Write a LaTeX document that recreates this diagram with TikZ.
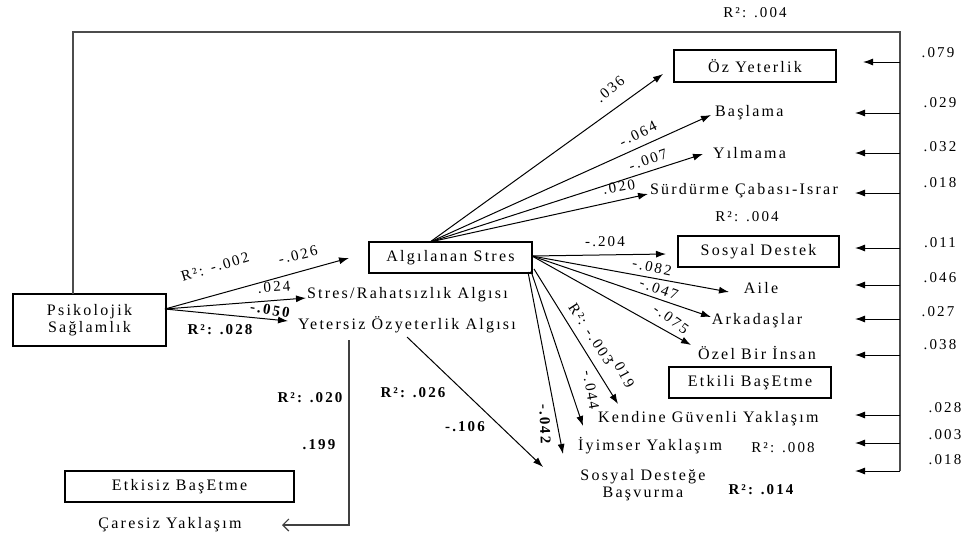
\documentclass[tikz,border=0pt]{standalone}
\usepackage{fontspec}
\setmainfont{Liberation Serif}[LetterSpace=14]
\usetikzlibrary{arrows.meta}
\begin{document}
\begin{tikzpicture}[x=1pt,y=-1pt,
  font=\fontsize{16}{19}\selectfont,
  every node/.style={inner sep=0pt, outer sep=0pt},
  box/.style={draw, line width=1.2pt, minimum width=#1, align=center},
  arr/.style={line width=1pt, -{Latex[length=10pt,width=7pt]}},
  rarr/.style={line width=1pt, -{Latex[length=10pt,width=7pt]}},
  frame/.style={line width=1.6pt, draw=black!70},
  lbl/.style={font=\fontsize{15}{18}\selectfont},
  blbl/.style={font=\fontsize{15}{18}\selectfont\bfseries}]
\useasboundingbox (0,0) rectangle (965,538);

% boxes
\node[box=153pt, minimum height=52pt] (psy) at (89.5,320) {Psikolojik\\[-2pt]Sağlamlık};
\node[box=163pt, minimum height=31pt] (as) at (450.5,257.5) {Algılanan Stres};
\node[box=162pt, minimum height=32pt] (oy) at (755,66) {Öz Yeterlik};
\node[box=161pt, minimum height=31pt] (sd) at (758.5,251.5) {Sosyal Destek};
\node[box=162pt, minimum height=31pt] (eb) at (750,382.5) {Etkili BaşEtme};
\node[box=229pt, minimum height=31pt] (eib) at (179.5,486.5) {Etkisiz BaşEtme};

% text nodes
\node[anchor=west] (ba) at (715,113) {Başlama};
\node[anchor=west] (yi) at (713,153) {Yılmama};
\node[anchor=west] (su) at (650,191) {Sürdürme Çabası-Israr};
\node (ai) at (761,288) {Aile};
\node (ar) at (757,321) {Arkadaşlar};
\node (oz) at (757,353) {Özel Bir İnsan};
\node[anchor=west] (kg) at (598,419) {Kendine Güvenli Yaklaşım};
\node[anchor=west] (iy) at (578,446) {İyimser Yaklaşım};
\node[align=center] (sdb) at (643,485) {Sosyal Desteğe\\[-2pt]Başvurma};
\node[anchor=west] (sr) at (307,295) {Stres/Rahatsızlık Algısı};
\node[anchor=west] (yo) at (298,325) {Yetersiz Özyeterlik Algısı};
\node (cy) at (170,525) {Çaresiz Yaklaşım};

% named coordinates
\coordinate (psyout) at (165,309);
\coordinate (astop) at (430,242);
\coordinate (asright) at (532,256);
\coordinate (asb1) at (528,272);
\coordinate (asb2) at (531,271);
\coordinate (asb3) at (534,269);
\coordinate (yoout) at (407,337);
\coordinate (tAS) at (349,258);
\coordinate (tSR) at (306,298);
\coordinate (tYO) at (288,321);
\coordinate (tOY) at (663,74);
\coordinate (tBa) at (711,115);
\coordinate (tYi) at (703,154);
\coordinate (tSu) at (648,194);
\coordinate (tSD) at (666,254);
\coordinate (tAi) at (729,292);
\coordinate (tAr) at (711,317);
\coordinate (tOz) at (691,345);
\coordinate (tKG) at (618,404);
\coordinate (tIY) at (583,426);
\coordinate (tSB) at (563,454);
\coordinate (tSB2) at (543,467);
\coordinate (cyl) at (349,340);
\coordinate (tCY) at (282,525);
\coordinate (fr1) at (73,32);
\coordinate (fr2) at (900,32);
\coordinate (fr3) at (900,471);

% frame line
\draw[frame] (psy.north -| fr1) -- (fr1) -- (fr2) -- (fr3);

% Psikolojik arrows
\draw[arr] (psyout) -- (tAS);
\draw[arr] (psyout) -- (tSR);
\draw[arr] (psyout) -- (tYO);

% Algilanan stres arrows
\draw[arr] (astop) -- (tOY);
\draw[arr] (astop) -- (tBa);
\draw[arr] (astop) -- (tYi);
\draw[arr] (astop) -- (tSu);
\draw[arr] (asright) -- (tSD);
\draw[arr] (asright) -- (tAi);
\draw[arr] (asright) -- (tAr);
\draw[arr] (asright) -- (tOz);
\draw[arr] (asb3) -- (tKG);
\draw[arr] (asb2) -- (tIY);
\draw[arr] (asb1) -- (tSB);
\draw[arr] (yoout) -- (tSB2);
\draw[line width=1.2pt, draw=black!75, -{Straight Barb[length=6pt,width=12pt]}] (cyl) |- (tCY);

% right side arrows
\foreach \y/\xe/\v/\ly/\lx in {62/863/.079/53/938, 113/855/.029/103/940, 153/855/.032/147/940, 193/855/.018/183/940,
  248/855/.011/243/940, 285/855/.046/278/940, 319/855/.027/312/938, 355/855/.038/345/940,
  415/855/.028/408/945, 443/855/.003/435/945, 471/855/.018/460/945} {
  \draw[rarr] (900,\y) -- (\xe,\y);
  \node[lbl] at (\lx,\ly) {\v};
}

% labels
\node[lbl] (r004t) at (755,13) {R²: .004};
\node[lbl] (r004) at (747,217) {R²: .004};
\node[lbl, rotate=17] at (215,267) {R²: -.002};
\node[lbl, rotate=14] at (298,255) {-.026};
\node[lbl, rotate=4] at (274,287) {.024};
\node[blbl, rotate=-10] at (270,310) {-.050};
\node[blbl] at (220,330) {R²: .028};
\node[lbl, rotate=40] at (610,89) {.036};
\node[lbl, rotate=26] at (638,134) {-.064};
\node[lbl, rotate=19] at (648,160) {-.007};
\node[lbl, rotate=10] at (619,187) {.020};
\node[lbl] at (605,242) {-.204};
\node[lbl, rotate=-12] at (652,267) {-.082};
\node[lbl, rotate=-20] at (659,289) {-.047};
\node[lbl, rotate=-36] at (671,319) {-.075};
\node[lbl, rotate=-57] at (591,334) {R²: -.003};
\node[lbl, rotate=-62] at (623,372) {.019};
\node[lbl, rotate=-80] at (591,390) {-.044};
\node[blbl, rotate=-88] at (545,424) {-.042};
\node[blbl] at (310,398) {R²: .020};
\node[blbl] at (319,445) {.199};
\node[blbl] at (413,393) {R²: .026};
\node[blbl] at (465,427) {-.106};
\node[lbl] at (783,448) {R²: .008};
\node[blbl] at (761,490) {R²: .014};
\end{tikzpicture}
\end{document}
